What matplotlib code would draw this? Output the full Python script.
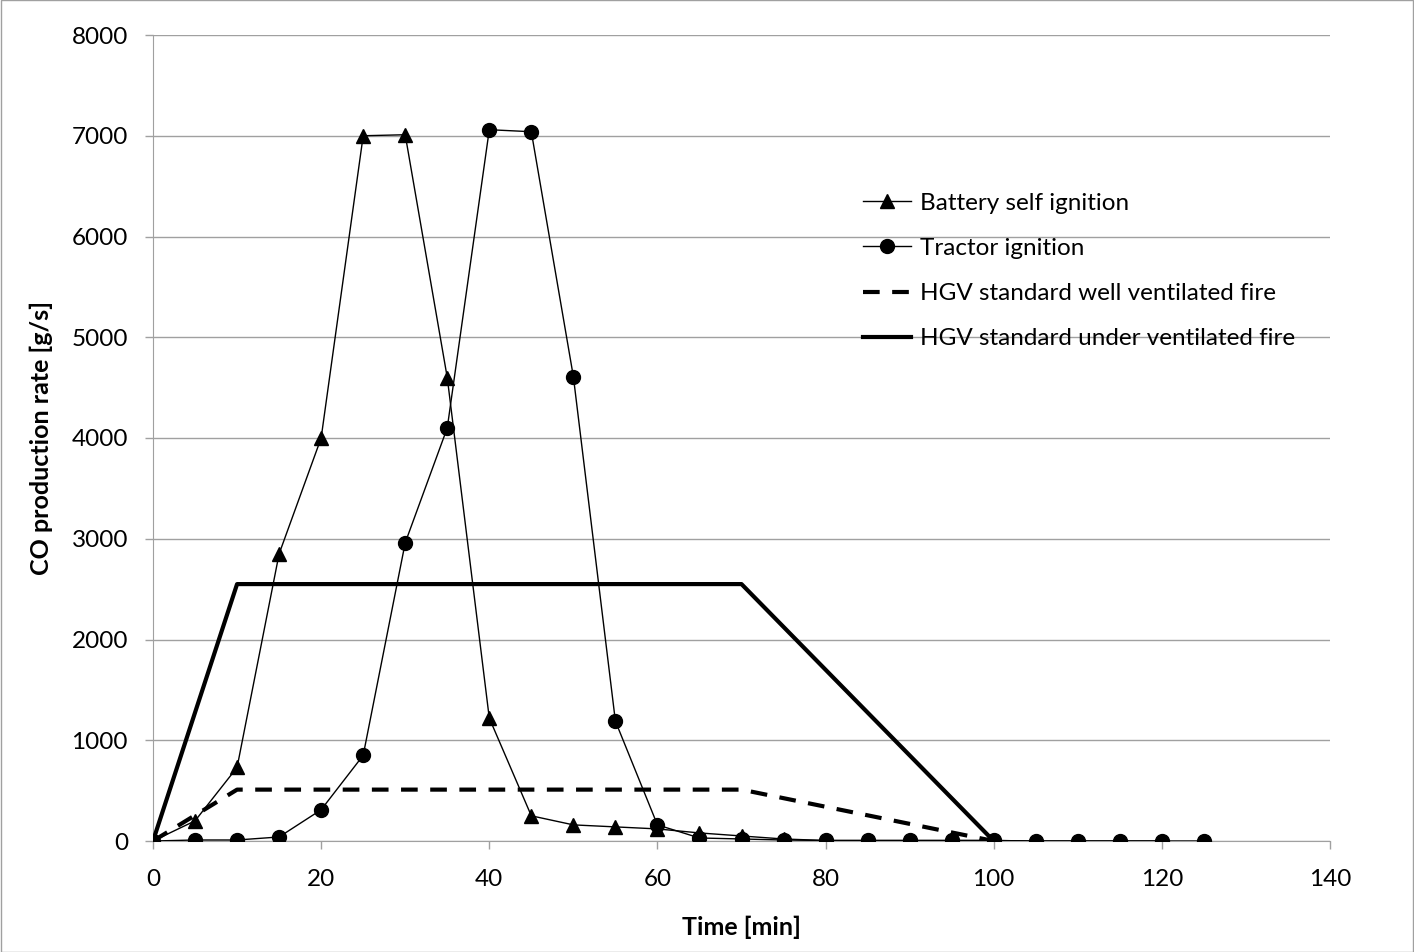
import matplotlib
matplotlib.use("Agg")
import matplotlib.pyplot as plt
from matplotlib.patches import Rectangle

plt.rcParams['font.family'] = ['Lato', 'DejaVu Sans']

battery_t = [0, 5, 10, 15, 20, 25, 30, 35, 40, 45, 50, 55, 60, 65, 70, 75, 80, 85, 90, 95, 100, 105, 110, 115, 120]
battery_co = [0, 200, 730, 2850, 4000, 7000, 7010, 4600, 1220, 250, 160, 140, 120, 80, 50, 20, 5, 5, 5, 5, 5, 0, 0, 0, 0]

tractor_t = [0, 5, 10, 15, 20, 25, 30, 35, 40, 45, 50, 55, 60, 65, 70, 75, 80, 85, 90, 95, 100, 105, 110, 115, 120, 125]
tractor_co = [0, 10, 10, 40, 310, 850, 2960, 4100, 7060, 7040, 4610, 1190, 160, 30, 20, 10, 5, 5, 5, 5, 5, 0, 0, 0, 0, 0]

well_t = [0, 10, 70, 100]
well_co = [0, 510, 510, 0]

under_t = [0, 10, 70, 100]
under_co = [0, 2550, 2550, 0]

labels = ["Battery self ignition", "Tractor ignition",
          "HGV standard well ventilated fire", "HGV standard under ventilated fire"]

fig = plt.figure(figsize=(14.14, 9.52), dpi=100)
ax = fig.add_axes([153/1414, 1-841/952, (1330-153)/1414, (841-35)/952])

l1, = ax.plot(battery_t, battery_co, color='black', lw=1.0, marker='^', markersize=10, zorder=4)
l2, = ax.plot(tractor_t, tractor_co, color='black', lw=1.0, marker='o', markersize=10, zorder=4)
l3, = ax.plot(well_t, well_co, color='black', lw=3, dashes=(4, 3), zorder=3)
l4, = ax.plot(under_t, under_co, color='black', lw=3, zorder=3)

ax.set_xlim(0, 140)
ax.set_ylim(0, 8000)
ax.set_xticks(range(0, 141, 20))
ax.set_yticks(range(0, 8001, 1000))
ax.yaxis.grid(True, color='#a0a0a0', lw=1)
ax.set_axisbelow(True)
for s in ['top', 'right']:
    ax.spines[s].set_visible(False)
for s in ['left', 'bottom']:
    ax.spines[s].set_color('#a0a0a0')
ax.tick_params(axis='both', colors='#a0a0a0', labelcolor='black', labelsize=17.5, length=6, width=1)
ax.tick_params(axis='y', pad=12)
ax.tick_params(axis='x', pad=14)
ax.set_xlabel("Time [min]", fontsize=18, fontweight='bold')
ax.set_ylabel("CO production rate [g/s]", fontsize=18, fontweight='bold')
ax.xaxis.set_label_coords(0.5, (841-916)/806)
ax.yaxis.set_label_coords((53-153)/1177, 0.5)

leg = fig.legend([l1, l2, l3, l4], labels, loc='center left',
                 bbox_to_anchor=(841/1414, 1-271/952), frameon=False,
                 fontsize=17.5, handlelength=2.0, labelspacing=1.0, handletextpad=0.35)

fig.patches.append(Rectangle((0.0005, 0.0005), 0.999, 0.999, transform=fig.transFigure,
                             fill=False, edgecolor='#a0a0a0', lw=1))

fig.savefig("out.png", dpi=100)
